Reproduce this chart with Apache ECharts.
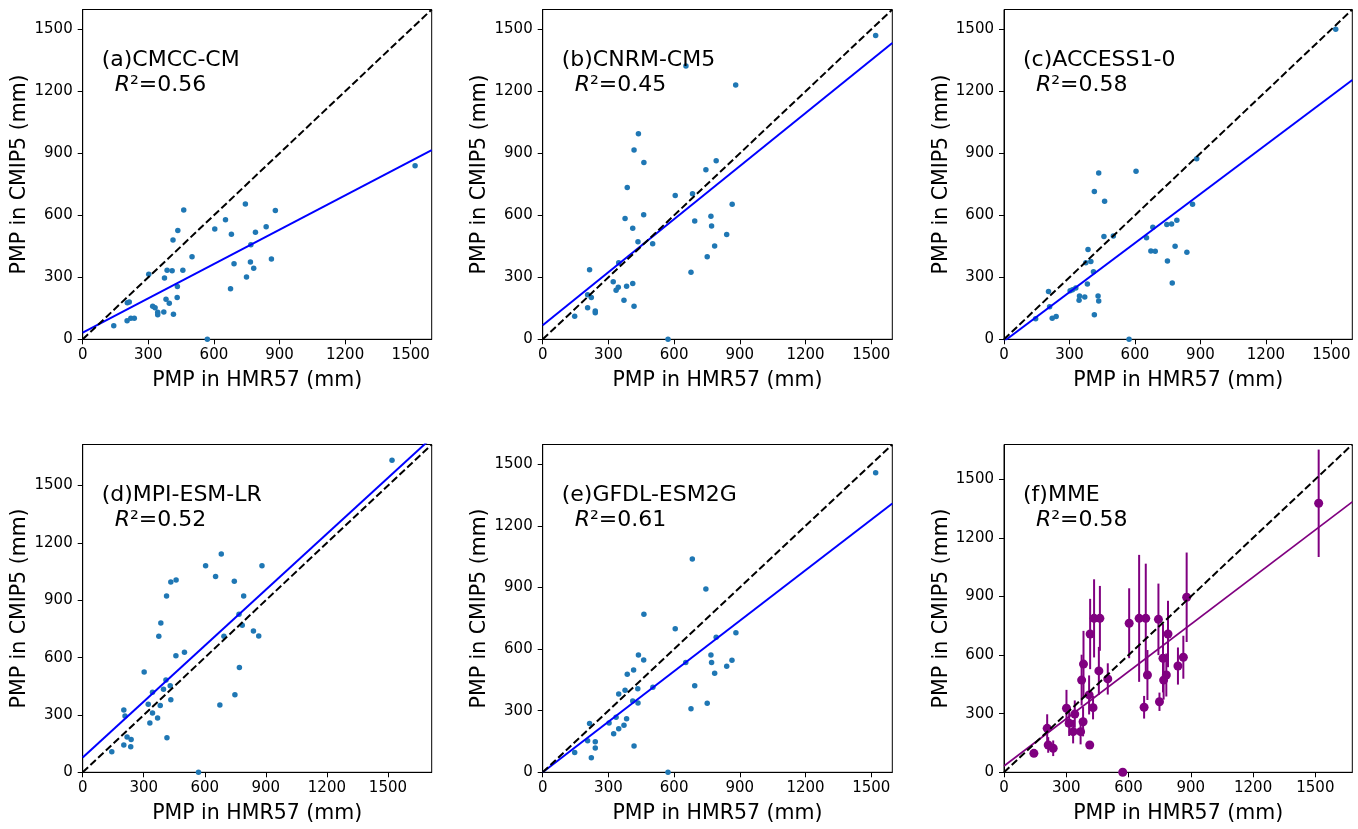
<!DOCTYPE html>
<html>
<head>
<meta charset="utf-8">
<script src="https://cdn.jsdelivr.net/npm/echarts@6/dist/echarts.min.js"></script>
<style>
  html, body { margin: 0; padding: 0; background: #fff; }
  #chart { width: 1358px; height: 829px; }
</style>
</head>
<body>
<div id="chart"></div>
<script>
// panel names and fit statistics
const panelNames = ['(a)CMCC-CM', '(b)CNRM-CM5', '(c)ACCESS1-0', '(d)MPI-ESM-LR', '(e)GFDL-ESM2G', '(f)MME'];
const r2Values = ['0.56', '0.45', '0.58', '0.52', '0.61', '0.58'];
const axisMax = [1596, 1596, 1596, 1715, 1596, 1678];
const fitSlope = [0.5535, 0.856, 0.792, 0.975, 0.82, 0.806];
const fitIntercept = [32, 68, -9.5, 78, 0, 32];
const tickValues = [0, 300, 600, 900, 1200, 1500];

// [HMR57, CMIP5] pairs
const pointsA = [[1520,840],[744,655],[881,623],[462,626],[653,579],[435,527],[604,534],[680,508],[839,545],[790,518],[413,481],[769,458],[500,400],[863,389],[767,374],[692,366],[782,344],[749,302],[386,334],[409,332],[458,334],[302,315],[374,297],[433,255],[676,245],[432,202],[381,194],[396,174],[204,177],[213,181],[320,160],[331,153],[343,131],[343,119],[371,132],[415,121],[203,90],[220,102],[236,102],[142,66],[570,0]];
const pointsB = [[1520,1470],[654,1323],[881,1231],[437,995],[417,916],[462,856],[792,864],[745,821],[386,735],[605,696],[684,704],[865,654],[376,585],[461,603],[768,596],[694,573],[411,538],[771,548],[840,507],[435,472],[502,462],[785,451],[751,399],[347,370],[214,336],[677,325],[322,278],[411,270],[345,252],[335,237],[383,257],[205,216],[222,202],[371,189],[417,160],[205,153],[240,137],[240,128],[146,111],[572,0]];
const pointsC = [[1520,1500],[883,874],[605,813],[434,805],[414,715],[461,668],[864,653],[792,576],[746,556],[768,558],[682,542],[653,492],[458,498],[501,500],[385,434],[673,427],[693,426],[784,450],[838,421],[398,376],[375,371],[749,379],[410,327],[382,268],[771,273],[204,231],[303,235],[329,248],[314,240],[346,210],[344,189],[370,205],[431,210],[434,185],[209,158],[221,102],[239,110],[414,119],[145,100],[573,0]];
const pointsD = [[1520,1632],[681,1142],[604,1080],[881,1080],[653,1025],[745,999],[459,1006],[433,996],[412,923],[791,923],[384,781],[374,712],[768,827],[784,769],[839,739],[865,713],[694,712],[500,628],[458,610],[770,548],[302,525],[409,483],[397,434],[343,419],[430,453],[433,380],[748,406],[322,356],[381,349],[674,352],[343,310],[368,284],[330,258],[202,326],[208,295],[414,181],[218,185],[238,171],[202,143],[236,134],[143,108],[569,0]];
const pointsE = [[1520,1458],[683,1038],[745,892],[462,770],[605,699],[882,680],[792,657],[437,571],[768,571],[461,547],[864,545],[771,535],[653,535],[840,516],[415,498],[386,477],[785,482],[694,422],[347,381],[503,414],[434,407],[376,399],[411,347],[435,337],[751,336],[677,310],[335,268],[383,261],[214,237],[303,240],[371,229],[347,212],[324,188],[205,154],[240,149],[240,118],[146,97],[417,128],[222,71],[572,0]];
// MME: [HMR57, mean, half error bar]
const pointsF = [[1516,1377,275],[880,896,229],[603,763,179],[651,788,325],[683,788,280],[744,783,183],[790,708,170],[766,584,175],[782,498,110],[769,472,100],[749,361,47],[864,589,110],[838,544,95],[691,498,128],[675,333,58],[500,478,80],[457,519,123],[462,788,166],[434,788,200],[415,708,180],[383,554,170],[374,472,130],[410,396,100],[429,331,60],[301,328,94],[341,298,70],[314,251,65],[333,208,60],[369,208,65],[381,259,75],[413,140,20],[208,225,72],[213,140,40],[237,123,40],[144,97,15],[572,0,10]];

const allPoints = [pointsA, pointsB, pointsC, pointsD, pointsE, pointsF];

const FONT = 'DejaVu Sans';
const gridLefts = [82.7, 542.7, 1004];
const gridWidths = [349, 349.6, 348.3];
const gridTops = [9.5, 444.5];
const gridHeights = [329.8, 327.8];

const grids = [], xAxes = [], yAxes = [], series = [], titles = [];

for (let i = 0; i < 6; i++) {
  const col = i % 3, row = Math.floor(i / 3);
  const lim = axisMax[i];
  const isMME = i === 5;
  const left = gridLefts[col], top = gridTops[row];

  grids.push({
    left: left, top: top, width: gridWidths[col], height: gridHeights[row],
    show: true, borderColor: '#000', borderWidth: 1
  });

  const common = {
    gridIndex: i, type: 'value', min: 0, max: lim, interval: 300,
    splitLine: { show: false },
    axisLine: { onZero: false, lineStyle: { color: '#000', width: 1 } },
    axisTick: { inside: false, length: 5, customValues: tickValues, lineStyle: { color: '#000' } },
    nameLocation: 'middle',
    nameTextStyle: { fontFamily: FONT, fontSize: 20.5, color: '#000' }
  };
  xAxes.push(Object.assign({}, common, {
    name: 'PMP in HMR57 (mm)', nameGap: 31,
    axisLabel: { customValues: tickValues, fontFamily: FONT, fontSize: 15, color: '#000', margin: 8,
      formatter: v => (v % 300 === 0 ? String(v) : '') }
  }));
  yAxes.push(Object.assign({}, common, {
    name: 'PMP in CMIP5 (mm)', nameGap: 50,
    axisLabel: { customValues: tickValues, fontFamily: FONT, fontSize: 15, color: '#000', margin: 10,
      formatter: v => (v % 300 === 0 ? String(v) : '') }
  }));

  const color = isMME ? '#800080' : '#1f77b4';

  if (isMME) {
    series.push({
      type: 'custom', xAxisIndex: i, yAxisIndex: i, z: 2,
      data: pointsF,
      encode: { x: 0, y: 1 },
      renderItem: function (params, api) {
        const x = api.value(0), y = api.value(1), e = api.value(2);
        const p1 = api.coord([x, y - e]);
        const p2 = api.coord([x, y + e]);
        return {
          type: 'line',
          shape: { x1: p1[0], y1: p1[1], x2: p2[0], y2: p2[1] },
          style: { stroke: '#800080', lineWidth: 2 }
        };
      }
    });
  }

  series.push({
    type: 'scatter', xAxisIndex: i, yAxisIndex: i, z: 3,
    data: allPoints[i].map(p => [p[0], p[1]]),
    symbolSize: isMME ? 9 : 5.5,
    itemStyle: { color: color, opacity: 1 }
  });

  series.push({
    type: 'line', xAxisIndex: i, yAxisIndex: i, z: 4,
    data: [[0, fitIntercept[i]], [lim, fitIntercept[i] + fitSlope[i] * lim]],
    showSymbol: false, symbol: 'none',
    lineStyle: { color: isMME ? '#800080' : '#0000ff', width: isMME ? 1.7 : 2 }
  });

  series.push({
    type: 'line', xAxisIndex: i, yAxisIndex: i, z: 5,
    data: [[0, 0], [lim, lim]],
    showSymbol: false, symbol: 'none',
    lineStyle: { color: '#000', width: 2, type: [7.4, 3.2] }
  });

  titles.push({
    text: panelNames[i], left: left + 19, top: top + 38, padding: 0,
    textStyle: { fontFamily: FONT, fontSize: 22, fontWeight: 'normal', color: '#000', lineHeight: 26 }
  });
  titles.push({
    text: '{i|R}{n|\u00b2=' + r2Values[i] + '}', left: left + 32, top: top + 63, padding: 0,
    textStyle: {
      fontFamily: FONT, fontSize: 22, fontWeight: 'normal', color: '#000', lineHeight: 26,
      rich: {
        i: { fontFamily: FONT, fontSize: 22, fontStyle: 'italic', color: '#000', lineHeight: 26 },
        n: { fontFamily: FONT, fontSize: 22, color: '#000', lineHeight: 26 }
      }
    }
  });
}

const chart = echarts.init(document.getElementById('chart'), null, { renderer: 'canvas' });
chart.setOption({
  animation: false,
  backgroundColor: '#fff',
  title: titles,
  grid: grids,
  xAxis: xAxes,
  yAxis: yAxes,
  series: series
});
</script>
</body>
</html>
